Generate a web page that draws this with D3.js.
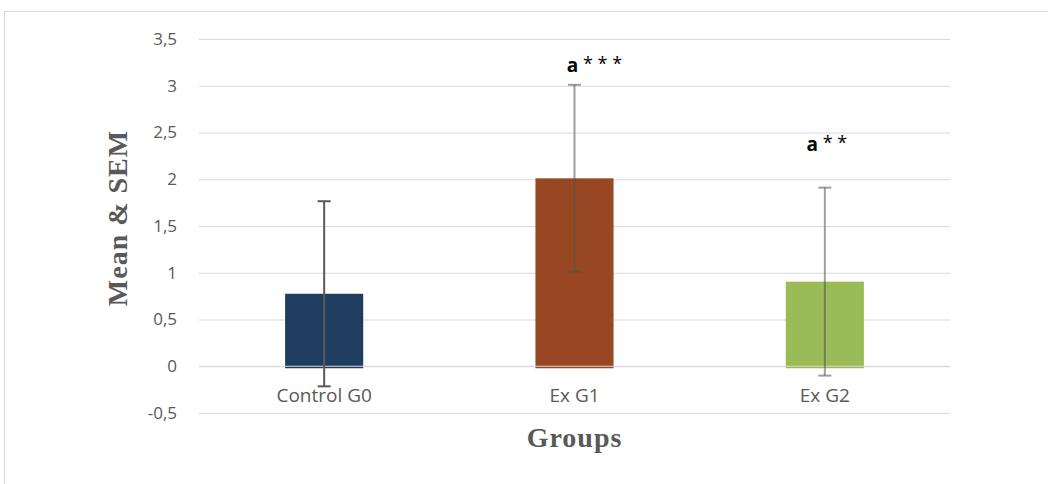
<!DOCTYPE html>
<html>
<head>
<meta charset="utf-8">
<script src="https://cdn.jsdelivr.net/npm/d3@7"></script>
<style>
  body { margin: 0; background: #fff; }
</style>
</head>
<body>
<div id="g"></div>
<script>
// chart data
var categories = ["Control G0", "Ex G1", "Ex G2"];
var means = [0.775, 2.01, 0.905];
var sems = [0.99, 1.0, 1.005];
var colors = ["#1f3d5e", "#974823", "#9bbb59"];
var errColors = ["#595959", "rgba(80,80,80,0.55)", "rgba(80,80,80,0.55)"];
var annotations = ["", "a***", "a**"];
var annotationY = [0, 3.15, 2.3];
var yTicks = [-0.5, 0, 0.5, 1, 1.5, 2, 2.5, 3, 3.5];

var WIDTH = 1048, HEIGHT = 484;
var PLOT_LEFT = 199, PLOT_RIGHT = 950, PLOT_TOP = 39, PLOT_BOTTOM = 413;

var svg = d3.select("#g").append("svg")
    .attr("width", WIDTH)
    .attr("height", HEIGHT);

// outer frame
svg.append("rect")
    .attr("x", 4.5).attr("y", 11.5)
    .attr("width", WIDTH).attr("height", HEIGHT)
    .attr("fill", "none")
    .attr("stroke", "#d9d9d9");

var x = d3.scaleBand()
    .domain(categories)
    .range([PLOT_LEFT, PLOT_RIGHT])
    .paddingInner(0.688)
    .paddingOuter(0.344);

var y = d3.scaleLinear()
    .domain([-0.5, 3.5])
    .range([PLOT_BOTTOM, PLOT_TOP]);

var fmt = function(d) { return String(d).replace(".", ","); };

// grid + tick labels
var yAxis = svg.append("g")
    .attr("transform", "translate(" + PLOT_LEFT + ",0)")
    .call(d3.axisLeft(y).tickValues(yTicks).tickFormat(fmt)
        .tickSize(-(PLOT_RIGHT - PLOT_LEFT)).tickPadding(22));
yAxis.select(".domain").remove();
yAxis.selectAll(".tick line").attr("stroke", "#d9d9d9").attr("stroke-width", 1);
yAxis.selectAll(".tick text")
    .attr("fill", "#595959")
    .attr("font-family", "'Open Sans', sans-serif")
    .attr("font-size", 17);

// bars
svg.selectAll("rect.bar")
    .data(means)
    .enter()
    .append("rect")
    .attr("class", "bar")
    .attr("x", function(d, i) { return x(categories[i]); })
    .attr("y", function(d) { return y(d); })
    .attr("width", x.bandwidth())
    .attr("height", function(d) { return y(0) - y(d) + 2; })
    .attr("fill", function(d, i) { return colors[i]; });

// zero line on top of bars
svg.append("line")
    .attr("x1", PLOT_LEFT).attr("x2", PLOT_RIGHT)
    .attr("y1", y(0)).attr("y2", y(0))
    .attr("stroke", "#d9d9d9");

// error bars
var err = svg.selectAll("g.err")
    .data(means)
    .enter()
    .append("g")
    .attr("class", "err")
    .attr("stroke", function(d, i) { return errColors[i]; })
    .attr("stroke-width", 2);

err.append("line")
    .attr("x1", function(d, i) { return x(categories[i]) + x.bandwidth() / 2; })
    .attr("x2", function(d, i) { return x(categories[i]) + x.bandwidth() / 2; })
    .attr("y1", function(d, i) { return y(d + sems[i]); })
    .attr("y2", function(d, i) { return y(d - sems[i]); });

[1, -1].forEach(function(s) {
    err.append("line")
        .attr("x1", function(d, i) { return x(categories[i]) + x.bandwidth() / 2 - 6.5; })
        .attr("x2", function(d, i) { return x(categories[i]) + x.bandwidth() / 2 + 6.5; })
        .attr("y1", function(d, i) { return y(d + s * sems[i]); })
        .attr("y2", function(d, i) { return y(d + s * sems[i]); });
});

// category labels
svg.selectAll("text.cat")
    .data(categories)
    .enter()
    .append("text")
    .attr("class", "cat")
    .attr("x", function(d) { return x(d) + x.bandwidth() / 2; })
    .attr("y", y(0) + 36)
    .attr("text-anchor", "middle")
    .attr("fill", "#595959")
    .attr("font-family", "'Open Sans', sans-serif")
    .attr("font-size", 19)
    .text(function(d) { return d; });

// significance labels
var dx = [0, 20, 2];
svg.selectAll("text.sig")
    .data(annotations)
    .enter()
    .append("text")
    .attr("class", "sig")
    .attr("x", function(d, i) { return x(categories[i]) + x.bandwidth() / 2 + dx[i]; })
    .attr("y", function(d, i) { return y(annotationY[i]); })
    .attr("text-anchor", "middle")
    .attr("fill", "#000")
    .attr("font-family", "'Open Sans', sans-serif")
    .attr("font-weight", "bold")
    .attr("font-size", 19)
    .each(function(d) {
        if (!d) return;
        var t = d3.select(this);
        t.append("tspan").text(d.charAt(0));
        t.append("tspan").attr("font-size", 18).attr("dy", -2).attr("font-weight", "normal")
            .text(" " + d.slice(1).split("").join(" "));
    });

// axis titles
svg.append("text")
    .attr("x", (PLOT_LEFT + PLOT_RIGHT) / 2)
    .attr("y", 447)
    .attr("text-anchor", "middle")
    .attr("fill", "#595959")
    .attr("font-family", "'Liberation Serif', 'Times New Roman', serif")
    .attr("font-weight", "bold")
    .attr("font-size", 28)
    .attr("letter-spacing", 1)
    .text("Groups");

svg.append("text")
    .attr("transform", "translate(127,218) rotate(-90)")
    .attr("text-anchor", "middle")
    .attr("fill", "#595959")
    .attr("font-family", "'Liberation Serif', 'Times New Roman', serif")
    .attr("font-weight", "bold")
    .attr("font-size", 28)
    .attr("letter-spacing", 1)
    .text("Mean & SEM");
</script>
</body>
</html>
